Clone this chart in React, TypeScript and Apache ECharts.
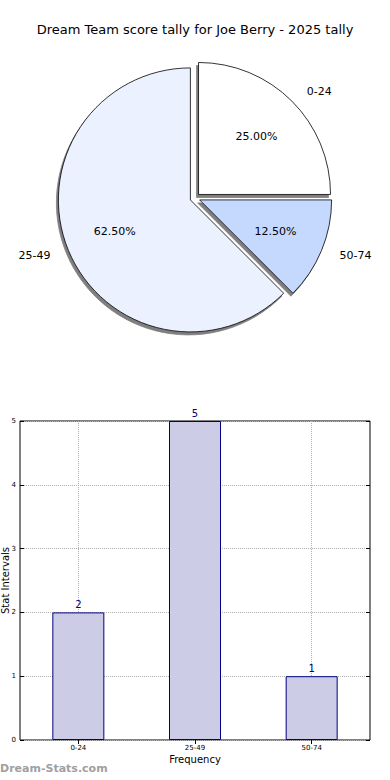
import React, { useEffect, useRef } from "react";
import * as echarts from "echarts";

const titleText = "Dream Team score tally for Joe Berry - 2025 tally";
const categories = ["0-24", "25-49", "50-74"];
const counts = [2, 5, 1];
const sliceColors = ["#ffffff", "#ebf1fe", "#c5d9fe"];
const yTicksMax = 5;

const FONT = "DejaVu Sans";

export default function App() {
  const ref = useRef<HTMLDivElement>(null);
  useEffect(() => {
    if (!ref.current) return;
    const chart = echarts.init(ref.current, null, { renderer: "svg" });
    const pieData = categories.map((c, i) => ({
      name: c,
      value: counts[i],
      selected: true,
      itemStyle: { color: sliceColors[i] },
    }));
    const pieBase = {
      type: "pie",
      center: [195, 198],
      startAngle: 0,
      clockwise: false,
      selectedMode: "multiple",
      selectedOffset: 5,
      avoidLabelOverlap: false,
      emphasis: { disabled: true },
      silent: true,
      data: pieData,
    };
    chart.setOption({
      animation: false,
      backgroundColor: "#ffffff",
      textStyle: { fontFamily: FONT },
      title: {
        text: titleText,
        left: "center",
        top: 18,
        textStyle: { fontFamily: FONT, fontSize: 13, fontWeight: "normal", color: "#000" },
      },
      graphic: [
        {
          type: "text",
          left: 0,
          top: 763,
          style: {
            text: "Dream-Stats.com",
            fill: "#a0a0a0",
            font: "bold 11px 'DejaVu Sans'",
          },
        },
      ],
      grid: {
        left: 20,
        right: 20,
        top: 421,
        bottom: 40,
        containLabel: false,
        outerBoundsMode: "none",
        show: true,
        borderColor: "#000",
        borderWidth: 1,
        backgroundColor: "#fff",
      },
      xAxis: [
        {
          type: "category",
          data: categories,
          position: "bottom",
          axisLine: { show: false },
          axisTick: { show: true, inside: true, alignWithLabel: true, length: 4, lineStyle: { color: "#000" } },
          axisLabel: { fontSize: 7, color: "#000", margin: 4, fontFamily: FONT },
          splitLine: { show: true, alignWithLabel: true, lineStyle: { type: "dotted", color: "#b0b0b0" } },
          name: "Frequency",
          nameLocation: "middle",
          nameGap: 14,
          nameMoveOverlap: false,
          nameTextStyle: { fontSize: 10, color: "#000", fontFamily: FONT },
        },
        {
          type: "category",
          data: categories,
          position: "top",
          axisLine: { show: false },
          axisTick: { show: true, inside: true, alignWithLabel: true, length: 4, lineStyle: { color: "#000" } },
          axisLabel: { show: false },
          splitLine: { show: false },
        },
      ],
      yAxis: [
        {
          type: "value",
          min: 0,
          max: yTicksMax,
          interval: 1,
          position: "left",
          axisLine: { show: false },
          axisTick: { show: true, inside: true, length: 4, lineStyle: { color: "#000" } },
          axisLabel: { fontSize: 7, color: "#000", margin: 4, fontFamily: FONT },
          splitLine: { show: true, lineStyle: { type: "dotted", color: "#b0b0b0" } },
          name: "Stat Intervals",
          nameLocation: "middle",
          nameGap: 10,
          nameMoveOverlap: false,
          nameTextStyle: { fontSize: 10, color: "#000", fontFamily: FONT },
        },
        {
          type: "value",
          min: 0,
          max: yTicksMax,
          interval: 1,
          position: "right",
          axisLine: { show: false },
          axisTick: { show: true, inside: true, length: 4, lineStyle: { color: "#000" } },
          axisLabel: { show: false },
          splitLine: { show: false },
        },
      ],
      series: [
        {
          ...pieBase,
          radius: [0, 132],
          itemStyle: {
            borderColor: "#000",
            borderWidth: 0.8,
            shadowBlur: 0,
            shadowOffsetX: -2,
            shadowOffsetY: 3,
            shadowColor: "rgba(0,0,0,0.5)",
          },
          label: {
            show: true,
            position: "outside",
            formatter: "{b}",
            fontSize: 11,
            color: "#000",
            fontFamily: FONT,
          },
          labelLine: { show: false, length: 14, length2: 0 },
        },
        {
          ...pieBase,
          radius: [0, 158],
          z: 3,
          itemStyle: { color: "rgba(0,0,0,0)", borderWidth: 0 },
          data: pieData.map((d) => ({ ...d, itemStyle: { color: "rgba(0,0,0,0)" } })),
          label: {
            show: true,
            position: "inside",
            formatter: (p: any) => p.percent.toFixed(2) + "%",
            fontSize: 11,
            color: "#000",
            fontFamily: FONT,
          },
          labelLine: { show: false },
        },
        {
          type: "bar",
          xAxisIndex: 0,
          yAxisIndex: 0,
          data: counts,
          barWidth: 52,
          silent: true,
          itemStyle: { color: "#cccce6", borderColor: "#000080", borderWidth: 1 },
          label: {
            show: true,
            position: "top",
            distance: 3,
            fontSize: 10,
            color: "#000080",
            fontFamily: FONT,
          },
        },
      ],
    });
    return () => chart.dispose();
  }, []);
  return (
    <div
      ref={ref}
      style={{ position: "fixed", left: 0, top: 0, width: 390, height: 780 }}
    />
  );
}
